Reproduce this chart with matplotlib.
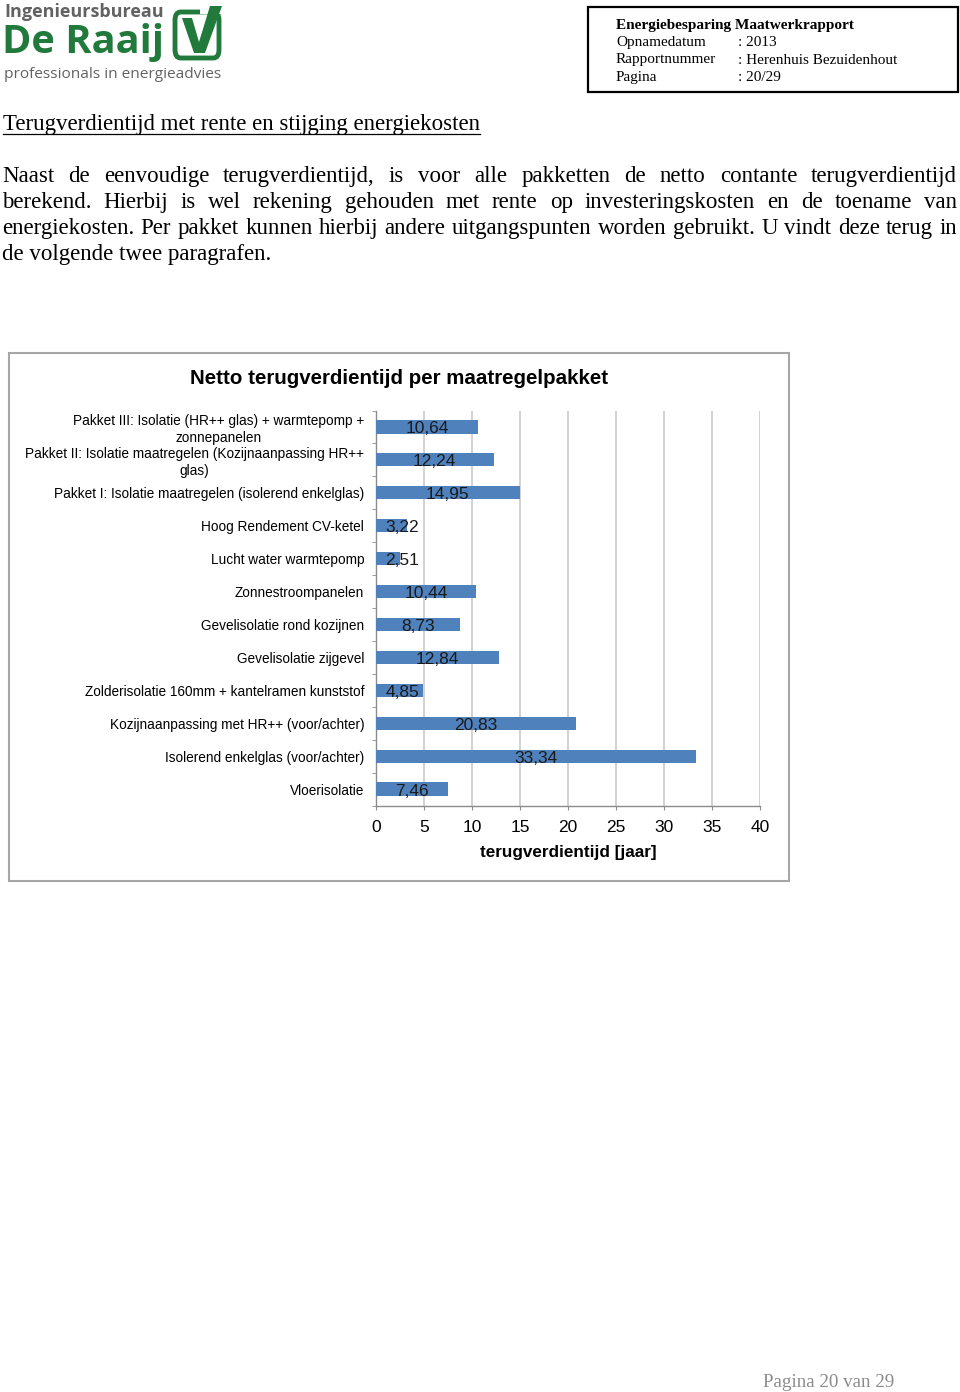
import matplotlib
matplotlib.use("Agg")
import matplotlib.pyplot as plt
from matplotlib.patches import Rectangle, FancyBboxPatch, Polygon
from matplotlib.lines import Line2D

W, H = 960, 1392

# chart data (top to bottom)
categories = [
    "Pakket III: Isolatie (HR++ glas) + warmtepomp +\nzonnepanelen",
    "Pakket II: Isolatie maatregelen (Kozijnaanpassing HR++\nglas)",
    "Pakket I: Isolatie maatregelen (isolerend enkelglas)",
    "Hoog Rendement CV-ketel",
    "Lucht water warmtepomp",
    "Zonnestroompanelen",
    "Gevelisolatie rond kozijnen",
    "Gevelisolatie zijgevel",
    "Zolderisolatie 160mm + kantelramen kunststof",
    "Kozijnaanpassing met HR++ (voor/achter)",
    "Isolerend enkelglas (voor/achter)",
    "Vloerisolatie",
]
values = [10.64, 12.24, 14.95, 3.22, 2.51, 10.44, 8.73, 12.84, 4.85, 20.83, 33.34, 7.46]
xticks = [0, 5, 10, 15, 20, 25, 30, 35, 40]

# page text
header_rows = [("Opnamedatum", ": 2013"),
               ("Rapportnummer", ": Herenhuis Bezuidenhout"),
               ("Pagina", ": 20/29")]
section_title = "Terugverdientijd met rente en stijging energiekosten"
paragraph_lines = [
    "Naast de eenvoudige terugverdientijd, is voor alle pakketten de netto contante terugverdientijd",
    "berekend. Hierbij is wel rekening gehouden met rente op investeringskosten en de toename van",
    "energiekosten. Per pakket kunnen hierbij andere uitgangspunten worden gebruikt. U vindt deze terug in",
    "de volgende twee paragrafen.",
]

GREEN = "#217a3c"
BLUE = "#4F81BD"
SANS = "Liberation Sans"
SERIF = "Liberation Serif"


def fx(x):
    return x / W


def fy(y):
    return 1 - y / H


fig = plt.figure(figsize=(W / 100, H / 100), dpi=100)
renderer = fig.canvas.get_renderer()

# ---- logo ----
fig.text(fx(4), fy(12), "Ingenieursbureau", family="Open Sans", weight="bold",
         fontsize=13.0, color="#626262", va="center", ha="left")
fig.text(fx(2), fy(43), "De Raaij", family="Open Sans", weight="bold",
         fontsize=28.6, color=GREEN, va="center", ha="left")
fig.text(fx(4), fy(74), "professionals in energieadvies", family="Open Sans",
         fontsize=11.1, color="#626262", va="center", ha="left")
box = FancyBboxPatch((fx(175), fy(58)), fx(44), 46 / H,
                     boxstyle="round,pad=0,rounding_size=0.006",
                     transform=fig.transFigure, fill=False, edgecolor=GREEN, lw=3.5)
fig.patches.append(box)
fig.patches.append(Rectangle((fx(200), fy(14)), fx(22), 10 / H, transform=fig.transFigure,
                             facecolor="white", edgecolor="none"))
check = Polygon([(fx(182), fy(18)), (fx(192), fy(18)), (fx(199), fy(42)),
                 (fx(210), fy(6)), (fx(222), fy(6)), (fx(205), fy(53)), (fx(194), fy(53))],
                closed=True, transform=fig.transFigure, facecolor=GREEN, edgecolor="none")
fig.patches.append(check)

# ---- header box ----
fig.patches.append(Rectangle((fx(588), fy(92)), fx(370), 85 / H, transform=fig.transFigure,
                             fill=False, edgecolor="black", lw=1.6))
fig.text(fx(616), fy(29), "Energiebesparing Maatwerkrapport", family=SERIF, weight="bold",
         fontsize=11.0, va="baseline", ha="left")
for i, (k, v) in enumerate(header_rows):
    yb = 46 + i * 17.5
    fig.text(fx(616), fy(yb), k, family=SERIF, fontsize=11.0, va="baseline")
    fig.text(fx(738), fy(yb), v, family=SERIF, fontsize=11.0, va="baseline")

# ---- section title + paragraph ----
PFS = 16.5
t = fig.text(fx(3), fy(130), section_title, family=SERIF, fontsize=PFS, va="baseline")
tw = t.get_window_extent(renderer).width
fig.lines.append(Line2D([fx(3), fx(3 + tw)], [fy(134), fy(134)], transform=fig.transFigure,
                        color="black", lw=0.9))

left, right = 2, 957
for i, line in enumerate(paragraph_lines):
    yb = 182 + i * 26.1
    words = line.split(" ")
    if i == len(paragraph_lines) - 1:
        fig.text(fx(left), fy(yb), line, family=SERIF, fontsize=PFS, va="baseline")
        continue
    objs = [fig.text(0, fy(yb), w, family=SERIF, fontsize=PFS, va="baseline") for w in words]
    widths = [o.get_window_extent(renderer).width for o in objs]
    gap = (right - left - sum(widths)) / (len(words) - 1)
    x = left
    for o, wd in zip(objs, widths):
        o.set_x(fx(x))
        x += wd + gap

# ---- chart frame ----
fig.patches.append(Rectangle((fx(9), fy(881)), fx(780), 528 / H, transform=fig.transFigure,
                             fill=False, edgecolor="#A6A6A6", lw=1.5))
fig.text(fx(399), fy(379), "Netto terugverdientijd per maatregelpakket", family=SANS,
         weight="bold", fontsize=14.8, ha="center", va="center")

ax = fig.add_axes([fx(376), fy(805.5), 384 / W, 395 / H])
pos = list(range(len(categories)))
ax.barh(pos, values, height=0.4, color=BLUE, zorder=3)
ax.set_ylim(len(categories) - 0.5, -0.5)
ax.set_xlim(0, 40)
ax.set_xticks(xticks)
ax.set_xticklabels([str(x) for x in xticks], family=SANS, fontsize=12.5)
ax.set_yticks(pos)
ax.set_yticklabels(categories, family=SANS, fontsize=9.8)
for lab in ax.get_yticklabels():
    lab.set_multialignment("center")
ax.set_yticks([p - 0.5 for p in pos] + [len(pos) - 0.5], minor=True)
ax.tick_params(axis="y", which="major", length=0, pad=8.5)
ax.tick_params(axis="y", which="minor", length=3, color="#8c8c8c", direction="out")
ax.tick_params(axis="x", length=3, color="#8c8c8c", pad=7.5)
ax.xaxis.grid(True, color="#cfcfcf", lw=1.3)
ax.set_axisbelow(True)
for s in ("top", "right"):
    ax.spines[s].set_visible(False)
for s in ("left", "bottom"):
    ax.spines[s].set_color("#8c8c8c")
    ax.spines[s].set_linewidth(1.0)
ax.set_xlabel("terugverdientijd [jaar]", family=SANS, weight="bold", fontsize=12.3,
              labelpad=7)

for p, v in zip(pos, values):
    ax.text(max(v / 2, 2.75), p + 0.06, f"{v:.2f}".replace(".", ","), family=SANS,
            fontsize=12.5, ha="center", va="center", color="#1a1a1a", zorder=4)

# ---- footer ----
fig.text(fx(763), fy(1387), "Pagina 20 van 29", family=SERIF, fontsize=13.7, color="#8a8a8a",
         va="baseline", ha="left")

fig.savefig("out.png", dpi=100)
